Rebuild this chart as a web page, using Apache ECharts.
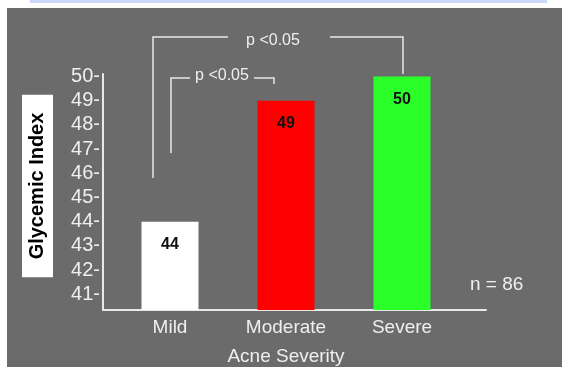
<!DOCTYPE html>
<html>
<head>
<meta charset="utf-8">
<script src="https://cdn.jsdelivr.net/npm/echarts@6/dist/echarts.min.js"></script>
<style>
  html, body { margin: 0; padding: 0; background: #ffffff; }
  #chart { width: 562px; height: 367px; }
</style>
</head>
<body>
<div id="chart"></div>
<script>
// Mean glycemic index by acne severity
const categories = ['Mild', 'Moderate', 'Severe'];
const glycemicIndex = [44, 49, 50];
const barColors = ['#ffffff', '#ff0000', '#2aff2a'];
const yRange = [40.35, 50.1];
const sampleSize = 86;
const significanceText = 'p <0.05';

const FONT = '"Liberation Sans", Arial, Helvetica, sans-serif';
const INK = '#efefef';
const LINE = '#e8e8e8';

const chart = echarts.init(document.getElementById('chart'), null, { renderer: 'canvas' });

const isWhole = v => Math.abs(v - Math.round(v)) < 1e-6;

const option = {
  animation: false,
  backgroundColor: '#ffffff',
  textStyle: { fontFamily: FONT },
  grid: [
    // bars
    { left: 112, right: 102, top: 74, bottom: 57, outerBoundsMode: 'none', containLabel: false },
    // frame axes
    { left: 103, right: 76, top: 74, bottom: 57, outerBoundsMode: 'none', containLabel: false }
  ],
  xAxis: [
    {
      gridIndex: 0,
      type: 'category',
      data: categories,
      axisLine: { show: false },
      axisTick: { show: false },
      axisLabel: { color: INK, fontSize: 19, margin: 8, fontFamily: FONT },
      name: 'Acne Severity',
      nameLocation: 'middle',
      nameGap: 37,
      nameTextStyle: { color: INK, fontSize: 19, fontFamily: FONT }
    },
    {
      gridIndex: 1,
      type: 'value',
      min: 0,
      max: 1,
      axisLine: { show: true, lineStyle: { color: LINE, width: 2 } },
      axisTick: { show: false },
      axisLabel: { show: false },
      splitLine: { show: false }
    }
  ],
  yAxis: [
    { gridIndex: 0, type: 'value', min: yRange[0], max: yRange[1], show: false },
    {
      gridIndex: 1,
      type: 'value',
      min: yRange[0],
      max: yRange[1],
      splitNumber: 10,
      axisLine: { show: true, lineStyle: { color: LINE, width: 2 } },
      axisTick: { show: false },
      splitLine: { show: false },
      axisLabel: {
        color: INK,
        fontSize: 20,
        margin: 3,
        fontFamily: FONT,
        formatter: v => (isWhole(v) ? Math.round(v) + '-' : '')
      }
    }
  ],
  series: [
    {
      type: 'bar',
      xAxisIndex: 0,
      yAxisIndex: 0,
      barWidth: 57,
      data: glycemicIndex.map((v, i) => ({ value: v, itemStyle: { color: barColors[i] } })),
      label: {
        show: true,
        position: 'insideTop',
        distance: 15,
        color: '#111111',
        fontWeight: 'bold',
        fontSize: 16,
        fontFamily: FONT,
        formatter: p => String(p.value)
      }
    }
  ],
  graphic: [
    { type: 'rect', z: -100, silent: true, shape: { x: 7, y: 8, width: 555, height: 359 }, style: { fill: '#6b6b6b' } },
    { type: 'rect', z: -100, silent: true, shape: { x: 30, y: 0, width: 517, height: 3 }, style: { fill: '#cbdafb' } },
    {
      type: 'text', x: 37.5, y: 186, rotation: Math.PI / 2,
      style: {
        text: 'Glycemic Index', font: 'bold 20px ' + FONT, fill: '#000000',
        backgroundColor: '#ffffff', padding: [6, 18, 5, 18], align: 'center', verticalAlign: 'middle'
      }
    },
    {
      type: 'text', x: 470, y: 285,
      style: { text: 'n = ' + sampleSize, font: '19px ' + FONT, fill: INK, align: 'left', verticalAlign: 'middle' }
    },
    // outer bracket: Mild vs Severe
    { type: 'polyline', shape: { points: [[153, 178], [153, 37], [228, 37]] }, style: { stroke: LINE, lineWidth: 1.5, fill: null } },
    { type: 'polyline', shape: { points: [[330, 37], [403, 37], [403, 74]] }, style: { stroke: LINE, lineWidth: 1.5, fill: null } },
    {
      type: 'text', x: 273, y: 41,
      style: { text: significanceText, font: '16px ' + FONT, fill: INK, align: 'center', verticalAlign: 'middle' }
    },
    // inner bracket: Mild vs Moderate
    { type: 'polyline', shape: { points: [[171, 153], [171, 78], [190, 78]] }, style: { stroke: LINE, lineWidth: 1.5, fill: null } },
    { type: 'polyline', shape: { points: [[254, 78], [274, 78], [274, 84]] }, style: { stroke: LINE, lineWidth: 1.5, fill: null } },
    {
      type: 'text', x: 222, y: 76,
      style: { text: significanceText, font: '16px ' + FONT, fill: INK, align: 'center', verticalAlign: 'middle' }
    }
  ]
};

chart.setOption(option);
</script>
</body>
</html>
